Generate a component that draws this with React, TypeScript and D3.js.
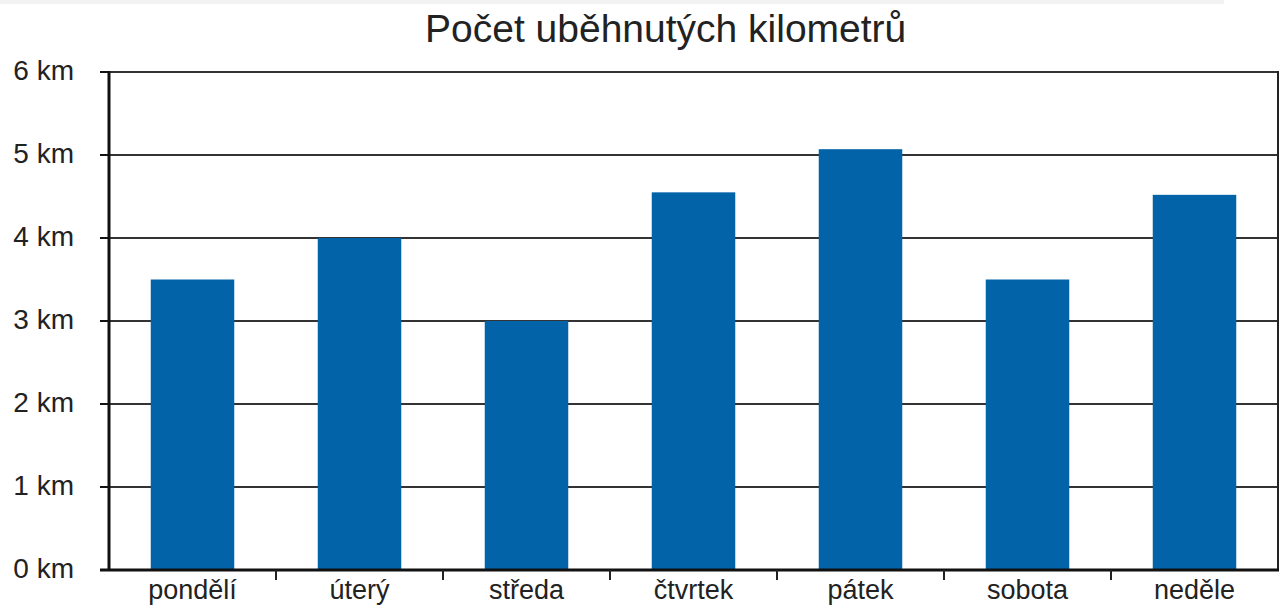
import * as d3 from "d3";
import { useEffect, useRef } from "react";

const days = ["pondělí", "úterý", "středa", "čtvrtek", "pátek", "sobota", "neděle"];
const kilometers = [3.5, 4, 3, 4.55, 5.07, 3.5, 4.52];
const yTicks = [0, 1, 2, 3, 4, 5, 6];
const title = "Počet uběhnutých kilometrů";

const W = 1280;
const H = 612;

const redraw = (ref) => {
  const svg = d3.select(ref.current);
  svg.selectAll("*").remove();

  const left = 109, right = 1278, top = 72, bottom = 570;
  const font = "Liberation Sans, Arial, sans-serif";

  const x = d3.scaleBand().domain(days).range([left, right]).paddingInner(0.5).paddingOuter(0.25);
  const y = d3.scaleLinear().domain([0, 6]).range([bottom, top]);

  // faint strip at the top of the picture
  svg.append("rect").attr("x", 0).attr("y", 0).attr("width", 1224).attr("height", 4).attr("fill", "#f2f2f2");

  svg.append("text")
    .attr("x", 425).attr("y", 42)
    .attr("font-family", font).attr("font-size", 39).attr("fill", "#222")
    .text(title);

  // horizontal gridlines
  svg.selectAll("line.grid").data(yTicks.filter(d => d > 0)).enter().append("line")
    .attr("class", "grid")
    .attr("x1", left).attr("x2", right)
    .attr("y1", d => y(d)).attr("y2", d => y(d))
    .attr("stroke", "#333").attr("stroke-width", 2);

  // bars
  svg.selectAll("rect.bar").data(kilometers).enter().append("rect")
    .attr("class", "bar")
    .attr("x", (d, i) => x(days[i]))
    .attr("width", x.bandwidth())
    .attr("y", d => y(d))
    .attr("height", d => y(0) - y(d))
    .attr("fill", "#0263a9");

  // right border
  svg.append("line")
    .attr("x1", right).attr("x2", right).attr("y1", top - 1).attr("y2", bottom)
    .attr("stroke", "#222").attr("stroke-width", 2);

  // y axis
  svg.append("line")
    .attr("x1", left).attr("x2", left).attr("y1", top - 1).attr("y2", bottom + 1)
    .attr("stroke", "#111").attr("stroke-width", 3);

  svg.selectAll("line.ytick").data(yTicks).enter().append("line")
    .attr("class", "ytick")
    .attr("x1", left - 9).attr("x2", left)
    .attr("y1", d => y(d)).attr("y2", d => y(d))
    .attr("stroke", "#111").attr("stroke-width", 2);

  svg.selectAll("text.ylab").data(yTicks).enter().append("text")
    .attr("class", "ylab")
    .attr("x", 74).attr("y", d => y(d) - 2)
    .attr("dy", "0.35em")
    .attr("text-anchor", "end")
    .attr("font-family", font).attr("font-size", 28).attr("fill", "#222")
    .text(d => `${d} km`);

  // x axis
  svg.append("line")
    .attr("x1", left - 9).attr("x2", right + 1).attr("y1", bottom).attr("y2", bottom)
    .attr("stroke", "#111").attr("stroke-width", 3);

  const step = x.step();
  svg.selectAll("line.xtick").data(days.slice(1)).enter().append("line")
    .attr("class", "xtick")
    .attr("x1", d => x(d) - (step - x.bandwidth()) / 2)
    .attr("x2", d => x(d) - (step - x.bandwidth()) / 2)
    .attr("y1", bottom).attr("y2", bottom + 10)
    .attr("stroke", "#222").attr("stroke-width", 2);

  svg.selectAll("text.xlab").data(days).enter().append("text")
    .attr("class", "xlab")
    .attr("x", d => x(d) + x.bandwidth() / 2)
    .attr("y", 599)
    .attr("text-anchor", "middle")
    .attr("font-family", font).attr("font-size", 27).attr("fill", "#222")
    .text(d => d);
};

export default function App() {
  const ref = useRef(null);

  useEffect(() => {
    document.body.style.margin = "0";
    redraw(ref);
  }, []);

  return (
    <svg ref={ref} width={W} height={H} style={{ display: "block", background: "#fff" }} />
  );
}
